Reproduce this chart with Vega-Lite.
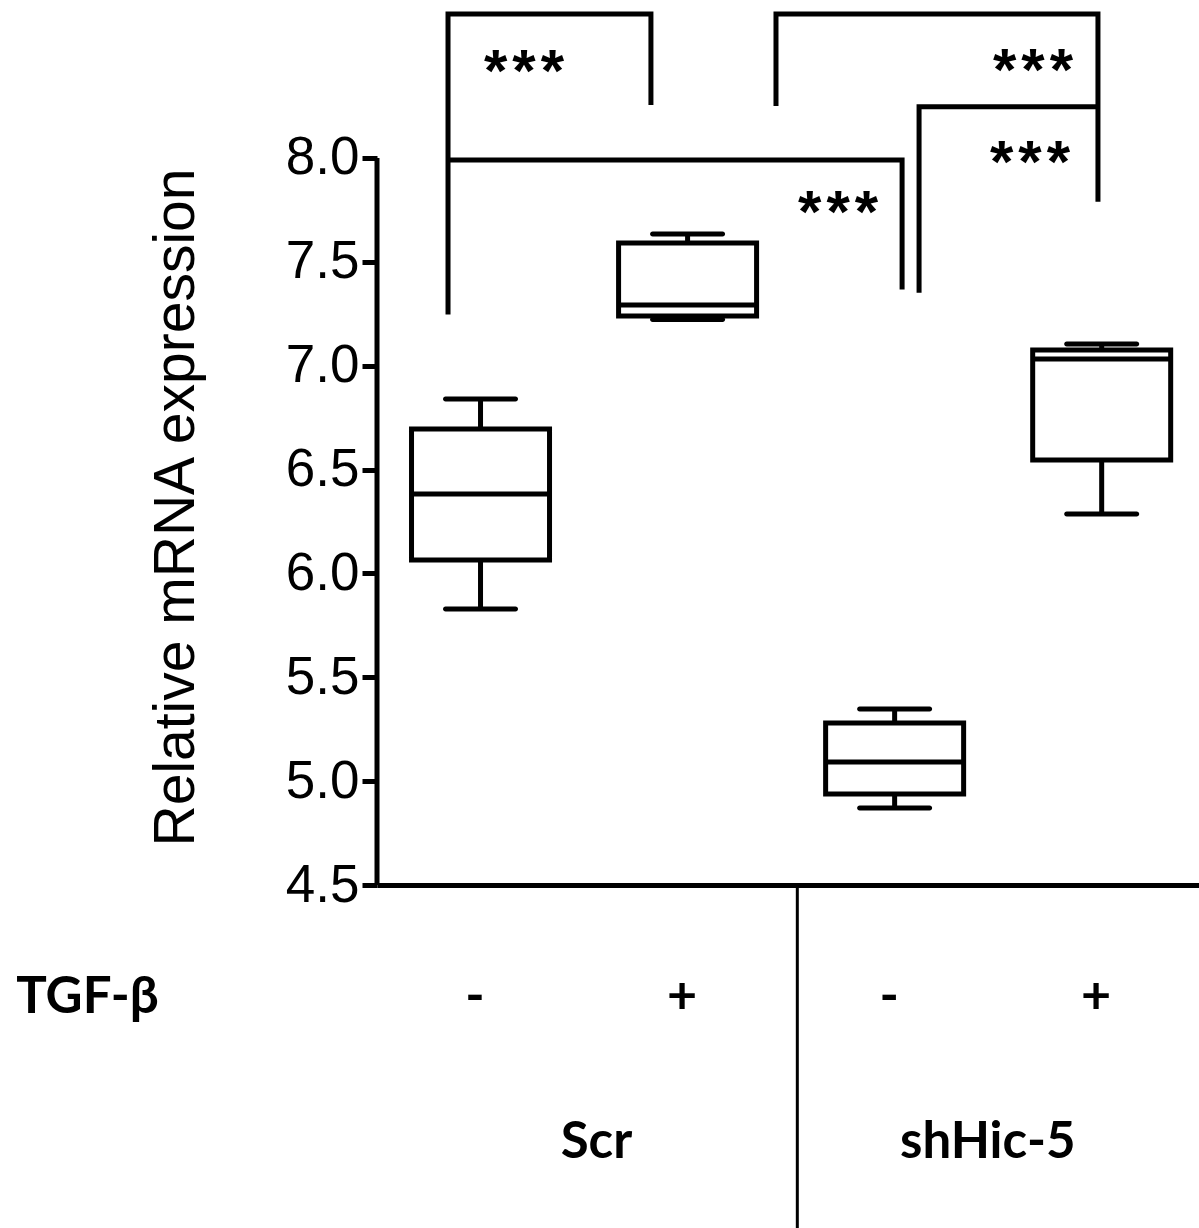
{
  "$schema": "https://vega.github.io/schema/vega-lite/v6.json",
  "width": 822,
  "height": 885,
  "autosize": "none",
  "padding": {"left": 377, "top": 0, "right": 0, "bottom": 343},
  "background": "white",
  "config": {"view": {"stroke": null}, "axis": {"grid": false}},
  "datasets": {
    "boxes": [
      {"pos": 0.5, "group": "Scr", "tgf": "-", "min": 5.829, "q1": 6.064, "median": 6.382, "q3": 6.695, "max": 6.839},
      {"pos": 1.5, "group": "Scr", "tgf": "+", "min": 7.222, "q1": 7.239, "median": 7.292, "q3": 7.59, "max": 7.634},
      {"pos": 2.5, "group": "shHic-5", "tgf": "-", "min": 4.871, "q1": 4.938, "median": 5.092, "q3": 5.28, "max": 5.347},
      {"pos": 3.5, "group": "shHic-5", "tgf": "+", "min": 6.286, "q1": 6.546, "median": 7.032, "q3": 7.075, "max": 7.104}
    ],
    "brackets": [
      {"id": "A", "k": 1, "x": 0.343, "y": 7.246},
      {"id": "A", "k": 2, "x": 0.343, "y": 8.693},
      {"id": "A", "k": 3, "x": 1.323, "y": 8.693},
      {"id": "A", "k": 4, "x": 1.323, "y": 8.255},
      {"id": "C", "k": 1, "x": 0.343, "y": 7.99},
      {"id": "C", "k": 2, "x": 2.536, "y": 7.99},
      {"id": "C", "k": 3, "x": 2.536, "y": 7.366},
      {"id": "B", "k": 1, "x": 1.927, "y": 8.25},
      {"id": "B", "k": 2, "x": 1.927, "y": 8.693},
      {"id": "B", "k": 3, "x": 3.482, "y": 8.693},
      {"id": "B", "k": 4, "x": 3.482, "y": 7.789},
      {"id": "D", "k": 1, "x": 2.618, "y": 7.351},
      {"id": "D", "k": 2, "x": 2.618, "y": 8.246},
      {"id": "D", "k": 3, "x": 3.482, "y": 8.246}
    ],
    "stars": [
      {"x": 0.71, "y": 8.457, "label": "*\u200a*\u200a*"},
      {"x": 3.168, "y": 8.462, "label": "*\u200a*\u200a*"},
      {"x": 3.154, "y": 8.019, "label": "*\u200a*\u200a*"},
      {"x": 2.227, "y": 7.778, "label": "*\u200a*\u200a*"}
    ],
    "groups": [
      {"group": "Scr", "center": 1.06},
      {"group": "shHic-5", "center": 2.95}
    ]
  },
  "layer": [
    {
      "data": {"name": "boxes"},
      "mark": {"type": "rule", "color": "black", "strokeWidth": 5},
      "encoding": {
        "x": {
          "field": "pos",
          "type": "quantitative",
          "scale": {"domain": [0, 3.97], "nice": false, "zero": false, "padding": 0},
          "axis": {
            "values": [0.5, 1.5, 2.5, 3.5],
            "labelExpr": "datum.value == 0.5 || datum.value == 2.5 ? '-' : '+'",
            "ticks": false,
            "domain": true,
            "domainWidth": 5,
            "domainColor": "black",
            "labelFont": "Lato",
            "labelFontWeight": "bold",
            "labelFontSize": 52,
            "labelColor": "black",
            "labelBaseline": "alphabetic",
            "labelPadding": 127,
            "labelOffset": -6,
            "labelFlush": false,
            "labelOverlap": false,
            "title": "TGF-β",
            "titleFont": "Lato",
            "titleFontWeight": "bold",
            "titleFontSize": 51,
            "titleColor": "black",
            "titleX": -290,
            "titleY": 127,
            "titleAlign": "center",
            "titleBaseline": "alphabetic"
          }
        },
        "y": {
          "field": "min",
          "type": "quantitative",
          "scale": {"domain": [4.5, 8.76], "nice": false, "zero": false, "padding": 0},
          "axis": {
            "values": [4.5, 5, 5.5, 6, 6.5, 7, 7.5, 8],
            "format": ".1f",
            "domain": false,
            "ticks": true,
            "tickSize": 15,
            "tickWidth": 5,
            "tickColor": "black",
            "labelFont": "Liberation Sans",
            "labelFontSize": 53,
            "labelColor": "black",
            "labelPadding": 3,
            "labelOverlap": false,
            "title": "Relative mRNA expression",
            "titleFont": "Liberation Sans",
            "titleFontSize": 57,
            "titleFontWeight": "normal",
            "titleColor": "black",
            "titleX": -184,
            "titleY": 507,
            "titleAngle": 270,
            "titleAlign": "center",
            "titleBaseline": "alphabetic"
          }
        },
        "y2": {"field": "max"}
      }
    },
    {
      "data": {"name": "boxes"},
      "mark": {"type": "bar", "size": 138, "fill": "white", "stroke": "black", "strokeWidth": 5},
      "encoding": {
        "x": {"field": "pos", "type": "quantitative"},
        "y": {"field": "q1", "type": "quantitative"},
        "y2": {"field": "q3"}
      }
    },
    {
      "data": {"name": "boxes"},
      "mark": {"type": "tick", "orient": "horizontal", "size": 141, "thickness": 5, "color": "black", "opacity": 1},
      "encoding": {
        "x": {"field": "pos", "type": "quantitative"},
        "y": {"field": "median", "type": "quantitative"}
      }
    },
    {
      "data": {"name": "boxes"},
      "mark": {"type": "tick", "orient": "horizontal", "size": 75, "thickness": 5, "color": "black", "opacity": 1, "cornerRadius": 2.5},
      "encoding": {
        "x": {"field": "pos", "type": "quantitative"},
        "y": {"field": "max", "type": "quantitative"}
      }
    },
    {
      "data": {"name": "boxes"},
      "mark": {"type": "tick", "orient": "horizontal", "size": 75, "thickness": 5, "color": "black", "opacity": 1, "cornerRadius": 2.5},
      "encoding": {
        "x": {"field": "pos", "type": "quantitative"},
        "y": {"field": "min", "type": "quantitative"}
      }
    },
    {
      "data": {"values": [{"axis": "y"}]},
      "mark": {"type": "rule", "color": "black", "strokeWidth": 5},
      "encoding": {
        "x": {"datum": 0, "type": "quantitative"},
        "y": {"datum": 4.5, "type": "quantitative"},
        "y2": {"datum": 8.0}
      }
    },
    {
      "data": {"name": "brackets"},
      "mark": {"type": "line", "color": "black", "strokeWidth": 5, "strokeJoin": "miter", "strokeCap": "butt"},
      "encoding": {
        "x": {"field": "x", "type": "quantitative"},
        "y": {"field": "y", "type": "quantitative"},
        "detail": {"field": "id"},
        "order": {"field": "k"}
      }
    },
    {
      "data": {"name": "stars"},
      "mark": {"type": "text", "font": "Liberation Sans", "fontWeight": "bold", "fontSize": 60, "color": "black", "align": "center", "baseline": "alphabetic", "dy": 28},
      "encoding": {
        "x": {"field": "x", "type": "quantitative"},
        "y": {"field": "y", "type": "quantitative"},
        "text": {"field": "label"}
      }
    },
    {
      "data": {"values": [{"divider": "Scr | shHic-5"}]},
      "mark": {"type": "rule", "color": "black", "strokeWidth": 3},
      "encoding": {
        "x": {"datum": 2.03, "type": "quantitative"},
        "y": {"datum": 4.5, "type": "quantitative"},
        "y2": {"datum": 2.8}
      }
    },
    {
      "data": {"name": "groups"},
      "mark": {"type": "text", "font": "Lato", "fontWeight": "bold", "fontSize": 51, "color": "black", "align": "center", "baseline": "alphabetic"},
      "encoding": {
        "x": {"field": "center", "type": "quantitative"},
        "y": {"datum": 3.186, "type": "quantitative"},
        "text": {"field": "group"}
      }
    }
  ]
}
